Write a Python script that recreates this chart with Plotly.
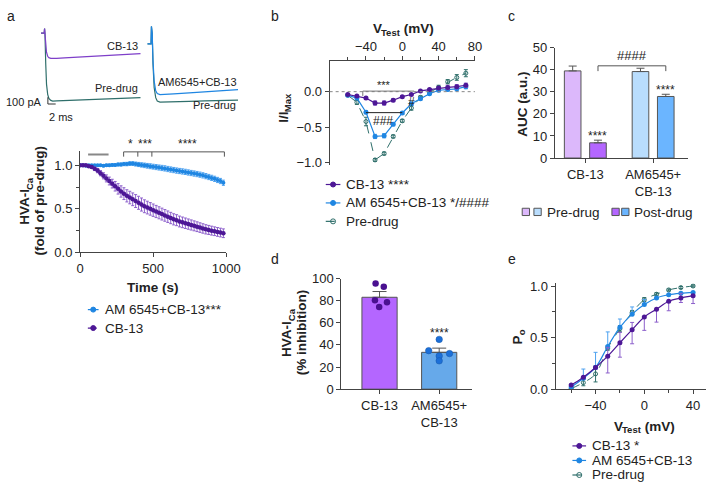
import plotly.graph_objects as go

W, H = 720, 499
FONT = "Liberation Sans, Arial, sans-serif"

def px(x):
    return x / W

def py(y):
    return 1 - y / H

# ---------------- DATA ----------------
# panel a: example current traces (ms, pA)
trace1_t = [2.0, 2.8, 2.9, 3.0, 3.2, 3.4, 3.7, 4.0, 4.5, 5.0, 6.0, 8.0, 12.0, 16.0, 20.0, 24.0, 27.5]
trace1_pre = [0, 0, 70, 0, -450, -750, -900, -960, -990, -1000, -998, -993, -985, -976, -967, -958, -950]
trace1_cb13 = [0, 0, 70, 0, -180, -280, -340, -360, -370, -372, -370, -363, -350, -337, -324, -311, -300]
trace2_t = [29.3, 30.2, 30.3, 30.5, 30.7, 31.0, 31.4, 31.8, 32.5, 33.5, 36.0, 40.0, 44.0, 48.0, 52.5]
trace2_pre = [-157, -157, 100, 0, -450, -800, -950, -1000, -1015, -1015, -1010, -1005, -998, -990, -985]
trace2_am = [-157, -157, 100, 0, -400, -700, -850, -890, -905, -905, -895, -880, -865, -850, -830]

# panel a: time course (s, fold of pre-drug)
time_s = [0, 20, 40, 60, 80, 100, 120, 140, 160, 180, 200, 220, 240, 260, 280, 300, 320, 340, 360, 380,
          400, 420, 440, 460, 480, 500, 520, 540, 560, 580, 600, 620, 640, 660, 680, 700, 720, 740, 760, 780,
          800, 820, 840, 860, 880, 900, 920, 940, 960, 980]
tc_cb13 = [1.0, 1.0, 1.0, 0.99, 0.98, 0.96, 0.94, 0.91, 0.88, 0.85, 0.82, 0.79, 0.76, 0.73, 0.70, 0.675, 0.65, 0.63, 0.61, 0.59,
           0.57, 0.55, 0.53, 0.515, 0.50, 0.485, 0.47, 0.455, 0.44, 0.425, 0.41, 0.395, 0.38, 0.37, 0.355, 0.345, 0.335, 0.325, 0.315, 0.305,
           0.295, 0.285, 0.275, 0.265, 0.258, 0.25, 0.243, 0.235, 0.228, 0.22]
tc_cb13_err = [0.005, 0.005, 0.008, 0.01, 0.015, 0.02, 0.025, 0.03, 0.035, 0.04, 0.045, 0.05, 0.055, 0.06, 0.065, 0.068, 0.07, 0.072, 0.073, 0.074,
               0.075, 0.075, 0.074, 0.073, 0.072, 0.071, 0.07, 0.069, 0.068, 0.067, 0.066, 0.065, 0.064, 0.063, 0.062, 0.061, 0.06, 0.059, 0.058, 0.057,
               0.056, 0.055, 0.054, 0.053, 0.052, 0.051, 0.05, 0.05, 0.05, 0.05]
tc_am = [1.0, 1.0, 0.995, 1.0, 1.0, 1.0, 1.0, 1.0, 0.995, 1.0, 1.0, 1.005, 1.005, 1.01, 1.01, 1.015, 1.015, 1.02, 1.02, 1.015,
         1.01, 1.005, 1.0, 0.995, 0.99, 0.985, 0.98, 0.975, 0.97, 0.965, 0.958, 0.952, 0.946, 0.94, 0.935, 0.93, 0.925, 0.918, 0.912, 0.906,
         0.9, 0.893, 0.885, 0.876, 0.866, 0.856, 0.845, 0.832, 0.82, 0.80]
tc_am_err = [0.005, 0.005, 0.006, 0.007, 0.008, 0.009, 0.01, 0.011, 0.012, 0.013, 0.014, 0.015, 0.016, 0.017, 0.018, 0.019, 0.02, 0.021, 0.022, 0.023,
             0.024, 0.025, 0.026, 0.027, 0.028, 0.028, 0.029, 0.029, 0.03, 0.03, 0.03, 0.03, 0.03, 0.03, 0.03, 0.03, 0.03, 0.03, 0.03, 0.03,
             0.03, 0.03, 0.03, 0.03, 0.03, 0.03, 0.03, 0.03, 0.03, 0.03]

# panel b: I-V relationship
iv_v = [-60, -50, -40, -30, -20, -10, 0, 10, 20, 30, 40, 50, 60, 70]
iv_cb13 = [-0.04, -0.06, -0.09, -0.16, -0.16, -0.12, -0.07, -0.04, 0.01, 0.03, 0.05, 0.06, 0.07, 0.09]
iv_cb13_err = [0.01, 0.01, 0.015, 0.03, 0.03, 0.02, 0.015, 0.01, 0.01, 0.01, 0.02, 0.03, 0.03, 0.03]
iv_am = [-0.05, -0.09, -0.29, -0.63, -0.62, -0.46, -0.30, -0.17, -0.10, -0.03, 0.02, 0.03, 0.04, 0.07]
iv_am_err = [0.01, 0.015, 0.02, 0.03, 0.03, 0.02, 0.02, 0.02, 0.015, 0.01, 0.02, 0.02, 0.03, 0.03]
iv_pre = [-0.05, -0.15, -0.42, -0.96, -0.87, -0.63, -0.41, -0.23, -0.08, -0.01, 0.06, 0.14, 0.20, 0.26]
iv_pre_err = [0.01, 0.03, 0.06, 0.02, 0.02, 0.02, 0.02, 0.03, 0.02, 0.02, 0.03, 0.03, 0.04, 0.05]

# panel c: AUC
groups_c = ["CB-13", "AM6545+<br>CB-13"]
auc_pre = [39.5, 39.2]
auc_pre_err = [2.2, 1.5]
auc_post = [6.9, 27.9]
auc_post_err = [1.2, 1.0]

# panel d: % inhibition
groups_d = ["CB-13", "AM6545+<br>CB-13"]
inhib_mean = [83.1, 33.3]
inhib_err = [5.2, 3.8]
dots_cb13 = [95.6, 92.7, 80.3, 78.5, 74.3]
dots_cb13_jit = [-0.066, 0.071, -0.077, 0.125, -0.006]
dots_am = [45.0, 34.8, 32.2, 30.0, 25.6]
dots_am_jit = [0.0, -0.176, 0.173, 0.0, 0.0]

# panel e: activation curves
po_v = [-60, -50, -40, -30, -20, -10, 0, 10, 20, 30, 40]
po_cb13 = [0.04, 0.116, 0.21, 0.32, 0.45, 0.577, 0.70, 0.775, 0.853, 0.884, 0.906]
po_cb13_up = [0.0, 0.0, 0.0, 0.085, 0.1, 0.07, 0.0, 0.0, 0.0, 0.045, 0.0]
po_cb13_dn = [0.0, 0.0, 0.0, 0.163, 0.14, 0.137, 0.13, 0.125, 0.093, 0.044, 0.076]
po_am = [0.02, 0.106, 0.21, 0.414, 0.60, 0.727, 0.82, 0.884, 0.915, 0.93, 0.938]
po_am_up = [0.0, 0.089, 0.147, 0.141, 0.08, 0.07, 0.05, 0.0, 0.0, 0.0, 0.0]
po_pre = [0.006, 0.063, 0.148, 0.398, 0.586, 0.743, 0.868, 0.92, 0.962, 0.985, 1.0]
po_pre_err = [0.0, 0.03, 0.078, 0.02, 0.03, 0.02, 0.02, 0.015, 0.01, 0.01, 0.01]

# ---------------- STYLE ----------------
PURPLE = "#4d1796"
PURPLE_ERR = "#8c5fcb"
PURPLE_TR = "#7e3fc9"
BLUE = "#1f86e2"
BLUE_ERR = "#4ea2f0"
TEAL = "#2f6f6b"
AXC = "#444444"
TXT = "#222222"

# Arial/Liberation Sans Bold advance widths (em/1000) for title layout
BOLD_W = {" ": 278, "(": 333, ")": 333, "%": 889, "-": 333, "/": 278, ".": 278, "A": 722, "C": 722, "H": 722,
          "I": 278, "M": 833, "P": 667, "T": 611, "V": 667, "a": 556, "b": 611, "d": 611, "e": 556, "f": 333,
          "g": 611, "h": 611, "i": 278, "l": 278, "m": 889, "n": 611, "o": 611, "p": 611, "r": 389, "s": 556,
          "t": 333, "u": 611, "x": 556}

def text_w(s, size):
    return sum(BOLD_W.get(c, 600) for c in s) / 1000.0 * size

fig = go.Figure()

# panel a traces
fig.add_trace(go.Scatter(x=trace1_t, y=trace1_pre, mode="lines", line=dict(color=TEAL, width=1.2), xaxis="x", yaxis="y", showlegend=False))
fig.add_trace(go.Scatter(x=trace1_t, y=trace1_cb13, mode="lines", line=dict(color=PURPLE_TR, width=1.2), xaxis="x", yaxis="y", showlegend=False))
fig.add_trace(go.Scatter(x=trace2_t, y=trace2_pre, mode="lines", line=dict(color=TEAL, width=1.2), xaxis="x", yaxis="y", showlegend=False))
fig.add_trace(go.Scatter(x=trace2_t, y=trace2_am, mode="lines", line=dict(color=BLUE, width=1.2), xaxis="x", yaxis="y", showlegend=False))

# panel a time course
fig.add_trace(go.Scatter(x=time_s, y=tc_am, mode="lines+markers", xaxis="x2", yaxis="y2", showlegend=False,
                         line=dict(color=BLUE, width=1.5), marker=dict(color=BLUE, size=4),
                         error_y=dict(type="data", array=tc_am_err, color=BLUE_ERR, thickness=1, width=1.5)))
fig.add_trace(go.Scatter(x=time_s, y=tc_cb13, mode="lines+markers", xaxis="x2", yaxis="y2", showlegend=False,
                         line=dict(color=PURPLE, width=1.5), marker=dict(color=PURPLE, size=4.5),
                         error_y=dict(type="data", array=tc_cb13_err, color=PURPLE_ERR, thickness=1, width=1.5)))

# panel b
fig.add_trace(go.Scatter(x=iv_v, y=iv_pre, mode="lines+markers", xaxis="x3", yaxis="y3", showlegend=False,
                         line=dict(color=TEAL, width=1, dash="dash"),
                         marker=dict(symbol="circle-open", color=TEAL, size=4, line=dict(width=1)),
                         error_y=dict(type="data", array=iv_pre_err, color=TEAL, thickness=1, width=2)))
fig.add_trace(go.Scatter(x=iv_v, y=iv_am, mode="lines+markers", xaxis="x3", yaxis="y3", showlegend=False,
                         line=dict(color=BLUE, width=1.2), marker=dict(color=BLUE, size=5),
                         error_y=dict(type="data", array=iv_am_err, color=BLUE_ERR, thickness=1, width=2)))
fig.add_trace(go.Scatter(x=iv_v, y=iv_cb13, mode="lines+markers", xaxis="x3", yaxis="y3", showlegend=False,
                         line=dict(color=PURPLE, width=1.2), marker=dict(color=PURPLE, size=5),
                         error_y=dict(type="data", array=iv_cb13_err, color=PURPLE_ERR, thickness=1, width=2)))

# panel c bars
BAR_W_C = 0.245
fig.add_trace(go.Bar(x=[1, 2], y=auc_pre, width=BAR_W_C, offset=-0.31, xaxis="x4", yaxis="y4", showlegend=False,
                     marker=dict(color=["#dcb8fb", "#b9ddfd"], line=dict(color="#555555", width=1)),
                     error_y=dict(type="data", array=auc_pre_err, arrayminus=[0, 0], symmetric=False, color="#555555", thickness=1, width=4)))
fig.add_trace(go.Bar(x=[1, 2], y=auc_post, width=BAR_W_C, offset=0.063, xaxis="x4", yaxis="y4", showlegend=False,
                     marker=dict(color=["#b466ff", "#6bb5ff"], line=dict(color="#555555", width=1)),
                     error_y=dict(type="data", array=auc_post_err, arrayminus=[0, 0], symmetric=False, color="#555555", thickness=1, width=4)))

# panel d bars + dots
fig.add_trace(go.Bar(x=[1, 2], y=inhib_mean, width=0.59, xaxis="x5", yaxis="y5", showlegend=False,
                     marker=dict(color=["#b466ff", "#66a9ea"], line=dict(color="#555555", width=1)),
                     error_y=dict(type="data", array=inhib_err, arrayminus=[0, 0], symmetric=False, color="#555555", thickness=1, width=7)))
fig.add_trace(go.Scatter(x=[1 + j for j in dots_cb13_jit], y=dots_cb13, mode="markers", xaxis="x5", yaxis="y5", showlegend=False,
                         marker=dict(color="#4a1190", size=6.5)))
fig.add_trace(go.Scatter(x=[2 + j for j in dots_am_jit], y=dots_am, mode="markers", xaxis="x5", yaxis="y5", showlegend=False,
                         marker=dict(color="#1c6fd8", size=6.5, line=dict(color="#1456a8", width=0.5))))

# panel e
fig.add_trace(go.Scatter(x=po_v, y=po_pre, mode="lines+markers", xaxis="x6", yaxis="y6", showlegend=False,
                         line=dict(color=TEAL, width=1, dash="dash", shape="spline"),
                         marker=dict(symbol="circle-open", color=TEAL, size=4, line=dict(width=1)),
                         error_y=dict(type="data", array=po_pre_err, color=TEAL, thickness=1, width=2)))
fig.add_trace(go.Scatter(x=po_v, y=po_am, mode="lines+markers", xaxis="x6", yaxis="y6", showlegend=False,
                         line=dict(color=BLUE, width=1.2, shape="spline"), marker=dict(color=BLUE, size=5),
                         error_y=dict(type="data", array=po_am_up, arrayminus=[0] * len(po_am), symmetric=False,
                                      color=BLUE_ERR, thickness=1, width=2)))
fig.add_trace(go.Scatter(x=po_v, y=po_cb13, mode="lines+markers", xaxis="x6", yaxis="y6", showlegend=False,
                         line=dict(color=PURPLE, width=1.2, shape="spline"), marker=dict(color=PURPLE, size=5),
                         error_y=dict(type="data", array=po_cb13_up, arrayminus=po_cb13_dn, symmetric=False,
                                      color=PURPLE_ERR, thickness=1, width=2)))

# ---------------- annotation helpers ----------------
annotations = []

def ann(text, x, y, size=13, xanchor="center", yanchor="middle", angle=0, color=TXT, xref="paper", yref="paper", bold=False):
    f = dict(family=FONT, size=size, color=color)
    if bold:
        f["weight"] = "bold"
    annotations.append(dict(text=text, x=x, y=y, xref=xref, yref=yref, xanchor=xanchor, yanchor=yanchor,
                            textangle=angle, showarrow=False, font=f))

def rich_title(runs, cx, cy, vertical=False):
    """Bold title made of runs (text, size, baseline shift px); centred at pixel (cx, cy)."""
    widths = [text_w(t, s) for t, s, _ in runs]
    total = sum(widths)
    pos = -total / 2.0
    for (t, s, sh), w in zip(runs, widths):
        mid = pos + w / 2.0
        if vertical:
            ann(t, px(cx + sh), py(cy - mid), size=s, angle=-90, bold=True)
        else:
            ann(t, px(cx + mid), py(cy + sh), size=s, bold=True)
        pos += w

# ---------------- manual legends (overlay pixel axis) ----------------
legend_specs = [
    # (rows y, x0, x1, text x, entries)
    ([312, 331], 86, 97, 102, [("AM 6545+CB-13***", BLUE, "solid", "circle"), ("CB-13", PURPLE, "dot", "circle")]),
    ([183, 202, 221], 330, 345, 349, [("CB-13 ****", PURPLE, "solid", "circle"),
                                       ("AM 6545+CB-13 */####", BLUE, "solid", "circle"),
                                       ("Pre-drug", TEAL, "dash", "circle-open")]),
    ([452.5, 467.5, 482.5], 583, 597, 601, [("CB-13 *", PURPLE, "solid", "circle"),
                                            ("AM 6545+CB-13", BLUE, "solid", "circle"),
                                            ("Pre-drug", TEAL, "dash", "circle-open")]),
]

for rows, x0, x1, tx, entries in legend_specs:
    for yy, (label, col, dash, sym) in zip(rows, entries):
        fig.add_trace(go.Scatter(x=[x0, x1], y=[yy, yy], mode="lines", xaxis="x7", yaxis="y7", showlegend=False,
                                 line=dict(color=col, width=1.2, dash=dash), hoverinfo="skip"))
        fig.add_trace(go.Scatter(x=[(x0 + x1) / 2], y=[yy], mode="markers", xaxis="x7", yaxis="y7", showlegend=False,
                                 marker=dict(color=col, size=5, symbol=sym, line=dict(width=1, color=col)), hoverinfo="skip"))
        ann(label, px(tx), py(yy), size=13.5, xanchor="left")

# panel c legend squares
shapes = []
for (xa, col) in [(531.5, "#dcb8fb"), (543.5, "#b9ddfd"), (623.5, "#b466ff"), (633.5, "#6bb5ff")]:
    shapes.append(dict(type="rect", xref="paper", yref="paper", x0=px(xa), x1=px(xa + 7.5), y0=py(215), y1=py(207.5),
                       line=dict(color="#555555", width=1), fillcolor=col))
ann("Pre-drug", px(555), py(211.5), size=13.5, xanchor="left")
ann("Post-drug", px(644.5), py(211.5), size=13.5, xanchor="left")

# ---------------- panel letters ----------------
for lab, x, y in [("a", 1, 9), ("b", 272, 9), ("c", 515, 9), ("d", 272, 260), ("e", 515, 260)]:
    ann(lab, px(x), py(y), size=14, xanchor="left")

# panel a trace labels and scale bar
ann("CB-13", px(139), py(40), size=11, xanchor="right")
ann("Pre-drug", px(139), py(83), size=11, xanchor="right")
ann("AM6545+CB-13", px(241), py(77), size=11, xanchor="right")
ann("Pre-drug", px(240), py(101), size=11, xanchor="right")
ann("100 pA", px(41), py(98), size=11, xanchor="right")
ann("2 ms", px(44), py(113), size=11, xanchor="left")
shapes.append(dict(type="path", xref="x", yref="y", path="M 3.75 -943 L 3.75 -1043 L 5.75 -1043",
                   line=dict(color="#333333", width=1)))

# ---------------- axis titles ----------------
SUB = 9.5
rich_title([("HVA-I", 13.5, 0), ("Ca", SUB, 4)], 21.5, 200, vertical=True)
rich_title([("(fold of pre-drug)", 13.5, 0)], 36.5, 200, vertical=True)
ann("Time (s)", px(153), py(289), size=13.5, bold=True)
rich_title([("V", 13.5, 0), ("Test", SUB, 4), (" (mV)", 13.5, 0)], 409.5, 22)
rich_title([("I/I", 13.5, 0), ("Max", SUB, 4)], 287, 104, vertical=True)
ann("AUC (a.u.)", px(532), py(100), size=13.5, angle=-90, bold=True)
rich_title([("HVA-I", 13.5, 0), ("Ca", SUB, 4)], 290.5, 336, vertical=True)
rich_title([("(% inhibition)", 13.5, 0)], 306, 336, vertical=True)
rich_title([("P", 13.5, 0), ("o", SUB, 4)], 527, 340, vertical=True)
rich_title([("V", 13.5, 0), ("Test", SUB, 4), (" (mV)", 13.5, 0)], 656.5, 432)

# significance marks: panel a
shapes.append(dict(type="path", xref="x2", yref="y2",
                   path="M 298 1.10 L 298 1.155 L 987 1.155 L 987 1.10 M 395 1.155 L 395 1.10 M 491 1.155 L 491 1.10",
                   line=dict(color="#555555", width=1)))
shapes.append(dict(type="line", xref="x2", yref="y2", x0=55, x1=195, y0=1.125, y1=1.125, line=dict(color="#888888", width=2)))
for t, s in [(347, "*"), (442, "***"), (736, "****")]:
    ann(s, t, 1.06, size=12, xref="x2", yref="y2 domain")

# panel b marks
shapes.append(dict(type="line", xref="x3 domain", yref="y3", x0=0, x1=1, y0=0, y1=0, line=dict(color="#888888", width=1, dash="dot")))
shapes.append(dict(type="path", xref="x3", yref="y3", path="M -43.5 -0.06 L -43.5 0.008 L 13 0.008",
                   line=dict(color="#777777", width=1)))
shapes.append(dict(type="line", xref="x3", yref="y3", x0=-40, x1=0, y0=-0.295, y1=-0.295, line=dict(color="#222222", width=1)))
ann("***", -20, 0.09, size=11, xref="x3", yref="y3")
ann("###", -21, -0.41, size=12, xref="x3", yref="y3")
ann("#", 10, -0.14, size=12, xref="x3", yref="y3")

# panel c marks
shapes.append(dict(type="path", xref="x4", yref="y4", path="M 1.186 39.4 L 1.186 41.8 L 2.186 41.8 L 2.186 39.4",
                   line=dict(color="#555555", width=1)))
ann("####", 1.686, 46.5, size=13, xref="x4", yref="y4")
ann("****", 1.186, 10.0, size=12, xref="x4", yref="y4")
ann("****", 2.186, 31.0, size=12, xref="x4", yref="y4")

# panel d marks
ann("****", 2, 50.5, size=12, xref="x5", yref="y5")

# ---------------- axes ----------------
def axis(**kw):
    d = dict(showline=True, linecolor=AXC, linewidth=1, ticks="outside", ticklen=4, tickcolor=AXC, tickwidth=1,
             showgrid=False, zeroline=False, tickfont=dict(family=FONT, size=13, color=TXT), fixedrange=True)
    d.update(kw)
    return d

minor_style = dict(ticks="outside", ticklen=3, tickcolor=AXC, tickwidth=1, showgrid=False)

fig.update_layout(
    width=W, height=H, margin=dict(l=0, r=0, t=0, b=0),
    paper_bgcolor="white", plot_bgcolor="rgba(0,0,0,0)",
    showlegend=False, barmode="overlay",
    font=dict(family=FONT, size=13, color=TXT),
    xaxis=dict(domain=[px(30), px(245)], range=[0, 53.75], visible=False, anchor="y"),
    yaxis=dict(domain=[py(125), py(10)], range=[-1400, 243], visible=False, anchor="x"),
    xaxis2=axis(domain=[px(78), px(228)], range=[0, 1000], tickvals=[0, 500, 1000], anchor="y2"),
    yaxis2=axis(domain=[py(253), py(148)], range=[0, 1.17], tickvals=[0, 0.5, 1.0], tickformat=".1f", anchor="x2",
                minor=dict(tickvals=[0.25, 0.75], **minor_style)),
    xaxis3=axis(domain=[px(334), px(483)], range=[-80, 80], tickvals=[-40, 0, 40, 80], side="top", anchor="y3",
                minor=dict(tickvals=[-60, -20, 20, 60], **minor_style)),
    yaxis3=axis(domain=[py(163), py(56)], range=[-1.033, 0.427], tickvals=[-1.0, -0.5, 0.0], tickformat=".1f", anchor="x3"),
    xaxis4=axis(domain=[px(565), px(702)], range=[0.55, 2.52], tickvals=[1, 2], ticktext=groups_c, anchor="y4"),
    yaxis4=axis(domain=[py(155.7), py(42)], range=[0, 50], dtick=10, anchor="x4"),
    xaxis5=axis(domain=[px(346), px(480)], range=[0.36, 2.55], tickvals=[1, 2], ticktext=groups_d, anchor="y5"),
    yaxis5=axis(domain=[py(394), py(280)], range=[0, 100], dtick=20, anchor="x5"),
    xaxis6=axis(domain=[px(565.7), px(720)], range=[-72.8, 50.6], tickvals=[-40, 0, 40], anchor="y6",
                minor=dict(tickvals=[-60, -20, 20], **minor_style)),
    yaxis6=axis(domain=[py(394), py(285)], range=[0, 1.025], tickvals=[0, 0.5, 1.0], tickformat=".1f", anchor="x6",
                minor=dict(tickvals=[0.25, 0.75], **minor_style)),
    xaxis7=dict(domain=[0, 1], range=[0, W], visible=False, anchor="y7", fixedrange=True),
    yaxis7=dict(domain=[0, 1], range=[H, 0], visible=False, anchor="x7", fixedrange=True),
    annotations=annotations,
    shapes=shapes,
)

fig.write_html("out.html", config={"displayModeBar": False},
               post_script="document.body.style.margin='0px'; document.body.style.overflow='hidden';")
